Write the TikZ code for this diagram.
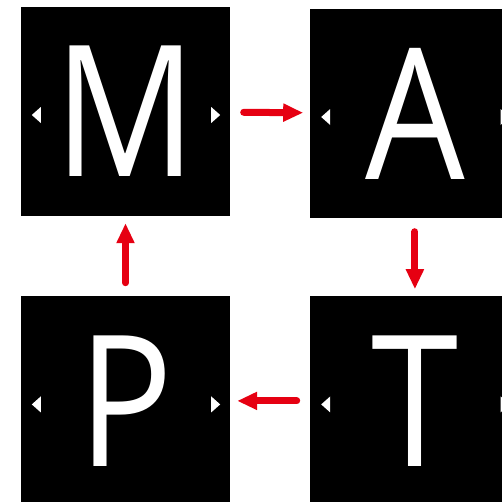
\documentclass[tikz,border=0pt]{standalone}
\usepackage{fontspec}
\setsansfont[FakeStretch=0.86]{Open Sans}
\usepackage{tikz}
\usetikzlibrary{
  arrows.meta,
  positioning,
  calc
}
\definecolor{arrowred}{RGB}{230,0,18}
\tikzset{
  tile/.style={fill=black, text=white, inner sep=0pt, minimum size=209pt,
    font=\fontsize{183}{183}\selectfont\sffamily},
  flow/.style={-{Triangle[length=20pt,width=17pt]}, line width=7pt, line cap=round,
    arrowred, shorten <=13.5pt, shorten >=7pt}
}

\begin{document}
\begin{tikzpicture}[x=1pt, y=-1pt]
  \useasboundingbox (0,0) rectangle (502,501);
  \node[tile] (m) at (125.5,111.5) {M};
  \node[tile, right=80pt of m, yshift=-2pt] (a) {A};
  \node[tile, below=80pt of m] (p) {P};
  \node[tile, right=80pt of p] (t) {T};

  % side markers
  \foreach \n in {m,a,p,t} {
    \fill[white] ($(\n.west)+(11pt,-3.5pt)$) -- ++(9pt,8pt) -- ++(0pt,-16pt) -- cycle;
    \fill[white] ($(\n.east)+(-10pt,-3.5pt)$) -- ++(-9pt,8pt) -- ++(0pt,-16pt) -- cycle;
  }

  \draw[flow] (m) -- (a);
  \draw[flow] (a) -- (t);
  \draw[flow] (t) -- (p);
  \draw[flow] (p) -- (m);
\end{tikzpicture}
\end{document}
